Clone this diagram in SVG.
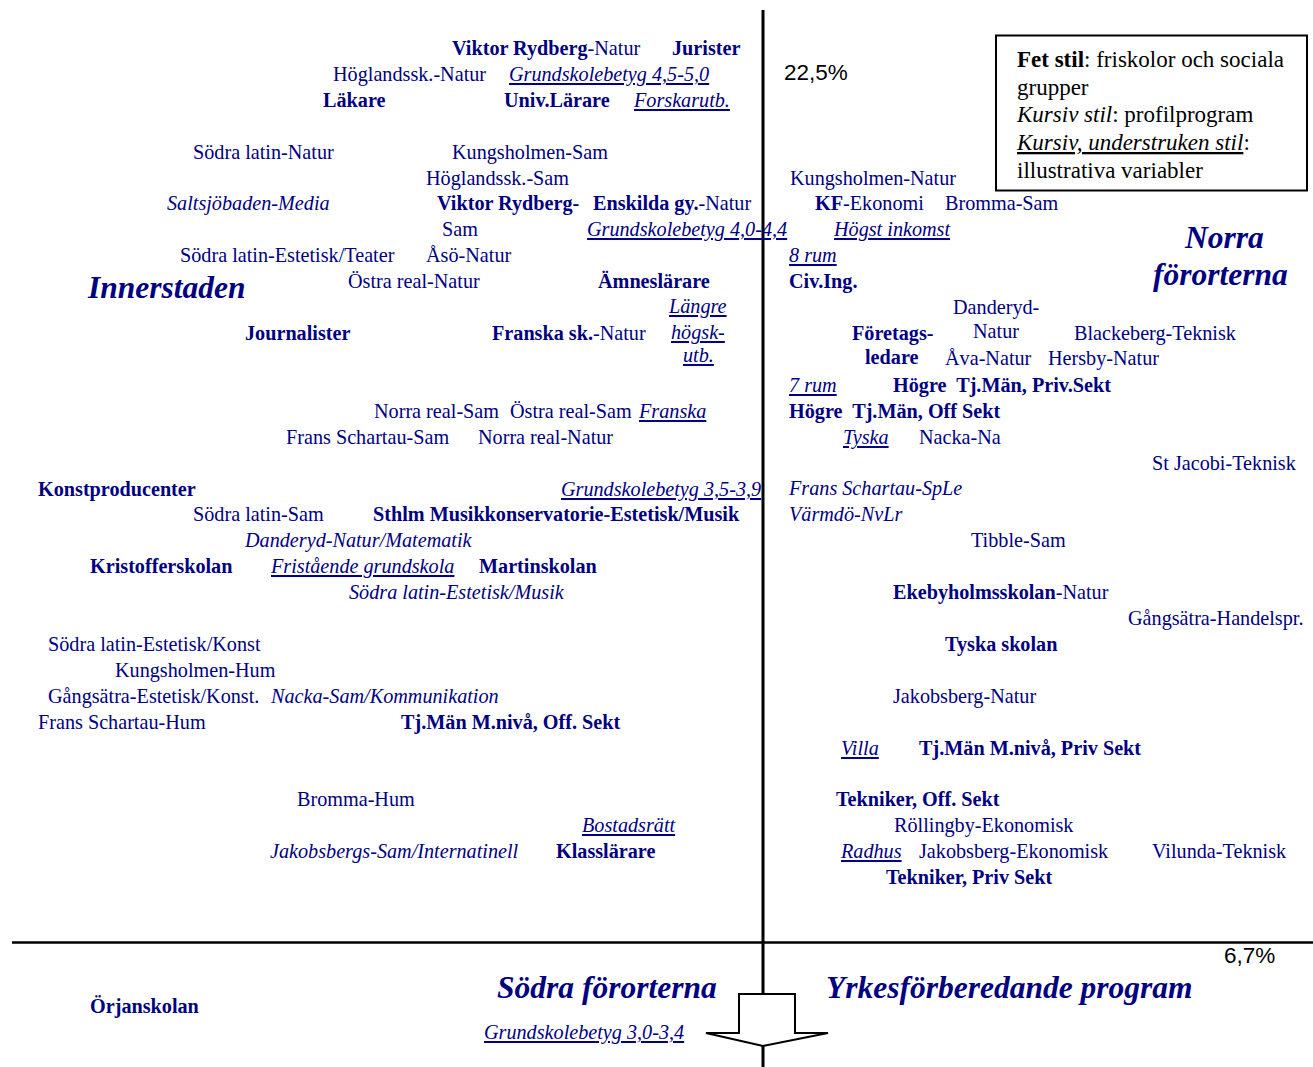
<svg xmlns="http://www.w3.org/2000/svg" width="1313" height="1067" viewBox="0 0 1313 1067">
<style>
.t{font-family:"Liberation Serif","Times New Roman",serif;font-size:20.2px;fill:#000080;white-space:pre}
.b{font-weight:bold}
.i{font-style:italic}
.u{text-decoration:underline}
.big{font-size:31.5px;font-weight:bold;font-style:italic}
.pct{font-family:"Liberation Sans",Arial,sans-serif;font-size:22.5px;fill:#000}
.leg{font-family:"Liberation Serif","Times New Roman",serif;font-size:23px;fill:#000}
.ax{stroke:#000;fill:none}
</style>
<rect width="1313" height="1067" fill="#fff"/>
<g id="axes">
<line class="ax" x1="763" y1="10" x2="763" y2="1067" stroke-width="3"/>
<line class="ax" x1="12" y1="942.5" x2="1313" y2="942.5" stroke-width="2.5"/>
<polygon points="739,994 795,994 795,1033 828,1033 763,1046 706,1033 739,1033" fill="#fff" stroke="#000" stroke-width="2"/>
</g>
<g id="legend">
<rect x="996" y="35.5" width="311" height="155" fill="#fff" stroke="#000" stroke-width="2"/>
<text class="leg" x="1017" y="67"><tspan font-weight="bold">Fet stil</tspan>: friskolor och sociala</text>
<text class="leg" x="1017" y="95">grupper</text>
<text class="leg" x="1017" y="122"><tspan font-style="italic">Kursiv stil</tspan>: profilprogram</text>
<text class="leg" x="1017" y="150"><tspan font-style="italic" text-decoration="underline">Kursiv, understruken stil</tspan>:</text>
<text class="leg" x="1017" y="178">illustrativa variabler</text>
</g>
<g id="labels-left">
<g id="n1"><text class="t" x="452" y="55"><tspan class="b">Viktor Rydberg</tspan>-Natur</text></g>
<g id="n2"><text class="t b" x="672" y="55">Jurister</text></g>
<g id="n3"><text class="t" x="333" y="81">Höglandssk.-Natur</text></g>
<g id="n4"><text class="t i u" x="509" y="81">Grundskolebetyg 4,5-5,0</text></g>
<g id="n5"><text class="t b" x="323" y="107">Läkare</text></g>
<g id="n6"><text class="t b" x="504" y="107">Univ.Lärare</text></g>
<g id="n7"><text class="t i u" x="634" y="107">Forskarutb.</text></g>
<g id="n8"><text class="t" x="193" y="159">Södra latin-Natur</text></g>
<g id="n9"><text class="t" x="452" y="159">Kungsholmen-Sam</text></g>
<g id="n10"><text class="t" x="426" y="185">Höglandssk.-Sam</text></g>
<g id="n11"><text class="t i" x="167" y="210">Saltsjöbaden-Media</text></g>
<g id="n12"><text class="t b" x="437" y="210">Viktor Rydberg-</text><text class="t" x="442" y="236">Sam</text></g>
<g id="n13"><text class="t" x="593" y="210"><tspan class="b">Enskilda gy.</tspan>-Natur</text></g>
<g id="n14"><text class="t i u" x="587" y="236">Grundskolebetyg 4,0-4,4</text></g>
<g id="n15"><text class="t" x="180" y="262">Södra latin-Estetisk/Teater</text></g>
<g id="n16"><text class="t" x="426" y="262">Åsö-Natur</text></g>
<g id="n17"><text class="t big" x="88" y="298">Innerstaden</text></g>
<g id="n18"><text class="t" x="348" y="288">Östra real-Natur</text></g>
<g id="n19"><text class="t b" x="598" y="288">Ämneslärare</text></g>
<g id="n20"><text class="t i u" x="669" y="313">Längre</text><text class="t i u" x="671" y="339">högsk-</text><text class="t i u" x="683" y="362">utb.</text></g>
<g id="n21"><text class="t b" x="245" y="340">Journalister</text></g>
<g id="n22"><text class="t" x="492" y="340"><tspan class="b">Franska sk.</tspan>-Natur</text></g>
<g id="n23"><text class="t" x="374" y="418">Norra real-Sam</text></g>
<g id="n24"><text class="t" x="510" y="418">Östra real-Sam</text></g>
<g id="n25"><text class="t i u" x="639" y="418">Franska</text></g>
<g id="n26"><text class="t" x="286" y="444">Frans Schartau-Sam</text></g>
<g id="n27"><text class="t" x="478" y="444">Norra real-Natur</text></g>
<g id="n28"><text class="t b" x="38" y="496">Konstproducenter</text></g>
<g id="n29"><text class="t i u" x="561" y="496">Grundskolebetyg 3,5-3,9</text></g>
<g id="n30"><text class="t" x="193" y="521">Södra latin-Sam</text></g>
<g id="n31"><text class="t b" x="373" y="521">Sthlm Musikkonservatorie-Estetisk/Musik</text></g>
<g id="n32"><text class="t i" x="245" y="547">Danderyd-Natur/Matematik</text></g>
<g id="n33"><text class="t b" x="90" y="573">Kristofferskolan</text></g>
<g id="n34"><text class="t i u" x="271" y="573">Fristående grundskola</text></g>
<g id="n35"><text class="t b" x="479" y="573">Martinskolan</text></g>
<g id="n36"><text class="t i" x="349" y="599">Södra latin-Estetisk/Musik</text></g>
<g id="n37"><text class="t" x="48" y="651">Södra latin-Estetisk/Konst</text></g>
<g id="n38"><text class="t" x="115" y="677">Kungsholmen-Hum</text></g>
<g id="n39"><text class="t" x="48" y="703">Gångsätra-Estetisk/Konst.</text></g>
<g id="n40"><text class="t i" x="271" y="703">Nacka-Sam/Kommunikation</text></g>
<g id="n41"><text class="t" x="38" y="729">Frans Schartau-Hum</text></g>
<g id="n42"><text class="t b" x="401" y="729">Tj.Män M.nivå, Off. Sekt</text></g>
<g id="n43"><text class="t" x="297" y="806">Bromma-Hum</text></g>
<g id="n44"><text class="t i u" x="582" y="832">Bostadsrätt</text></g>
<g id="n45"><text class="t i" x="270" y="858">Jakobsbergs-Sam/Internatinell</text></g>
<g id="n46"><text class="t b" x="556" y="858">Klasslärare</text></g>
<g id="n47"><text class="t b" x="90" y="1013">Örjanskolan</text></g>
<g id="n48"><text class="t big" x="497" y="998">Södra förorterna</text></g>
<g id="n49"><text class="t i u" x="484" y="1039">Grundskolebetyg 3,0-3,4</text></g>
</g>
<g id="labels-right">
<g id="p1"><text class="pct" x="784" y="80">22,5%</text></g>
<g id="n50"><text class="t" x="790" y="185">Kungsholmen-Natur</text></g>
<g id="n51"><text class="t" x="815" y="210"><tspan class="b">KF</tspan>-Ekonomi</text></g>
<g id="n52"><text class="t" x="945" y="210">Bromma-Sam</text></g>
<g id="n53"><text class="t i u" x="834" y="236">Högst inkomst</text></g>
<g id="n54"><text class="t big" x="1185" y="248">Norra</text><text class="t big" x="1153" y="285">förorterna</text></g>
<g id="n55"><text class="t i u" x="789" y="262">8 rum</text></g>
<g id="n56"><text class="t b" x="789" y="288">Civ.Ing.</text></g>
<g id="n57"><text class="t" x="953" y="314">Danderyd-</text><text class="t" x="973" y="338">Natur</text></g>
<g id="n58"><text class="t b" x="852" y="340">Företags-</text><text class="t b" x="865" y="364">ledare</text></g>
<g id="n59"><text class="t" x="1074" y="340">Blackeberg-Teknisk</text></g>
<g id="n60"><text class="t" x="945" y="365">Åva-Natur</text></g>
<g id="n61"><text class="t" x="1048" y="365">Hersby-Natur</text></g>
<g id="n62"><text class="t i u" x="789" y="392">7 rum</text></g>
<g id="n63"><text class="t b" x="893" y="392">Högre  Tj.Män, Priv.Sekt</text></g>
<g id="n64"><text class="t b" x="789" y="418">Högre  Tj.Män, Off Sekt</text></g>
<g id="n65"><text class="t i u" x="843" y="444">Tyska</text></g>
<g id="n66"><text class="t" x="919" y="444">Nacka-Na</text></g>
<g id="n67"><text class="t" x="1152" y="470">St Jacobi-Teknisk</text></g>
<g id="n68"><text class="t i" x="789" y="495">Frans Schartau-SpLe</text></g>
<g id="n69"><text class="t i" x="789" y="521">Värmdö-NvLr</text></g>
<g id="n70"><text class="t" x="971" y="547">Tibble-Sam</text></g>
<g id="n71"><text class="t" x="893" y="599"><tspan class="b">Ekebyholmsskolan</tspan>-Natur</text></g>
<g id="n72"><text class="t" x="1128" y="625">Gångsätra-Handelspr.</text></g>
<g id="n73"><text class="t b" x="945" y="651">Tyska skolan</text></g>
<g id="n74"><text class="t" x="893" y="703">Jakobsberg-Natur</text></g>
<g id="n75"><text class="t i u" x="841" y="755">Villa</text></g>
<g id="n76"><text class="t b" x="919" y="755">Tj.Män M.nivå, Priv Sekt</text></g>
<g id="n77"><text class="t b" x="836" y="806">Tekniker, Off. Sekt</text></g>
<g id="n78"><text class="t" x="894" y="832">Röllingby-Ekonomisk</text></g>
<g id="n79"><text class="t i u" x="841" y="858">Radhus</text></g>
<g id="n80"><text class="t" x="919" y="858">Jakobsberg-Ekonomisk</text></g>
<g id="n81"><text class="t" x="1152" y="858">Vilunda-Teknisk</text></g>
<g id="n82"><text class="t b" x="886" y="884">Tekniker, Priv Sekt</text></g>
<g id="p2"><text class="pct" x="1224" y="963">6,7%</text></g>
<g id="n83"><text class="t big" x="826" y="998">Yrkesförberedande program</text></g>
</g>
</svg>
